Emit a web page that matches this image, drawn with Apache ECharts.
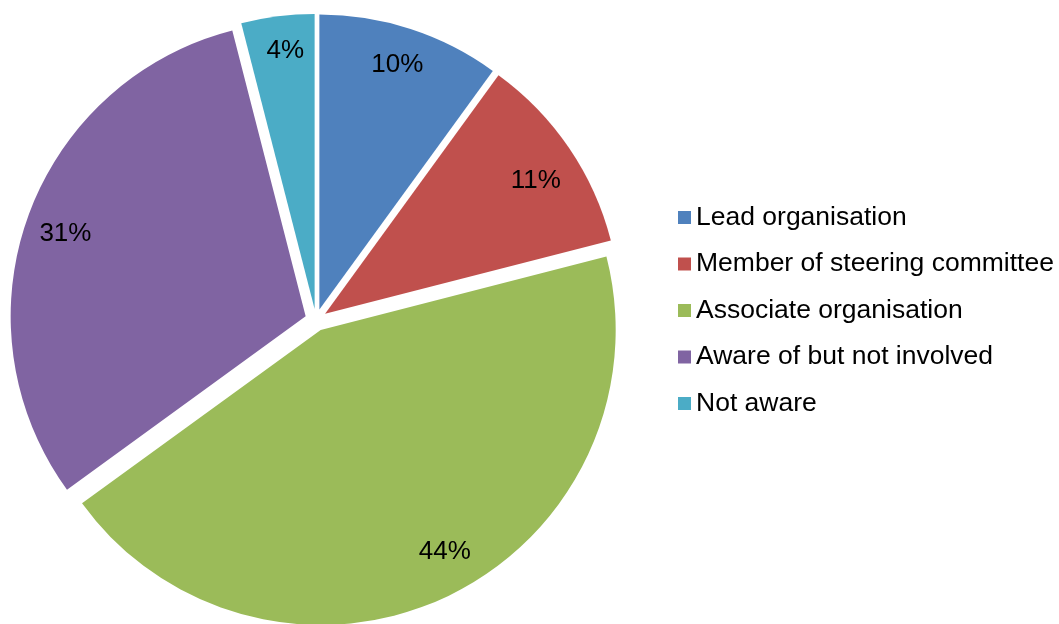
<!DOCTYPE html>
<html>
<head>
<meta charset="utf-8">
<script src="https://cdn.jsdelivr.net/npm/echarts@6/dist/echarts.min.js"></script>
<style>
  html, body { margin: 0; padding: 0; background: #ffffff; }
  #chart { width: 1059px; height: 624px; }
</style>
</head>
<body>
<div id="chart"></div>
<script>
// Involvement categories and their shares (percent)
const categories = [
  'Lead organisation',
  'Member of steering committee',
  'Associate organisation',
  'Aware of but not involved',
  'Not aware'
];
const shares = [10, 11, 44, 31, 4];
const colors = ['#4F81BD', '#C0504D', '#9BBB59', '#8064A2', '#4BACC6'];

// small nudges for the percentage labels, in pixels [dx, dy]
const labelNudges = [[-2, 1], [-3, 12], [14, -12], [3, 5], [3, -2]];

const FONT = '"Liberation Sans", Arial, sans-serif';
const CENTER = [316, 320];
const RADIUS = 295;
const EXPLODE = 11;

// every slice pulled out from the centre
const sliceData = categories.map((name, i) => ({
  name: name,
  value: shares[i],
  selected: true,
  itemStyle: { color: colors[i] }
}));

// transparent ring carrying the percentage labels near the rim
const labelData = categories.map((name, i) => ({
  name: name,
  value: shares[i],
  selected: true
}));

const chart = echarts.init(document.getElementById('chart'), null, { renderer: 'canvas' });

chart.setOption({
  animation: false,
  backgroundColor: '#ffffff',
  legend: {
    orient: 'vertical',
    left: 678,
    top: 204,
    padding: 0,
    itemWidth: 13,
    itemHeight: 13,
    itemGap: 19.5,
    icon: 'rect',
    selectedMode: false,
    data: categories,
    textStyle: {
      fontFamily: FONT,
      fontSize: 26.5,
      lineHeight: 26,
      color: '#000000',
      padding: [0, 0, 0, 0]
    }
  },
  series: [
    {
      name: 'slices',
      type: 'pie',
      center: CENTER,
      radius: [0, RADIUS],
      startAngle: 90,
      clockwise: true,
      selectedMode: 'multiple',
      selectedOffset: EXPLODE,
      avoidLabelOverlap: false,
      label: { show: false },
      labelLine: { show: false },
      emphasis: { disabled: true },
      select: { itemStyle: { borderWidth: 0 } },
      itemStyle: { borderWidth: 0 },
      data: sliceData
    },
    {
      name: 'labels',
      type: 'pie',
      center: CENTER,
      radius: [216, RADIUS],
      startAngle: 90,
      clockwise: true,
      selectedMode: 'multiple',
      selectedOffset: EXPLODE,
      silent: true,
      avoidLabelOverlap: false,
      itemStyle: { color: 'rgba(0,0,0,0)', borderWidth: 0 },
      select: { itemStyle: { color: 'rgba(0,0,0,0)', borderWidth: 0 } },
      emphasis: { disabled: true },
      labelLine: { show: false },
      label: {
        show: true,
        position: 'inside',
        formatter: '{c}%',
        fontFamily: FONT,
        fontSize: 26,
        color: '#000000'
      },
      labelLayout: function (params) {
        const n = labelNudges[params.dataIndex] || [0, 0];
        return { dx: n[0], dy: n[1] };
      },
      data: labelData
    }
  ]
});
</script>
</body>
</html>
